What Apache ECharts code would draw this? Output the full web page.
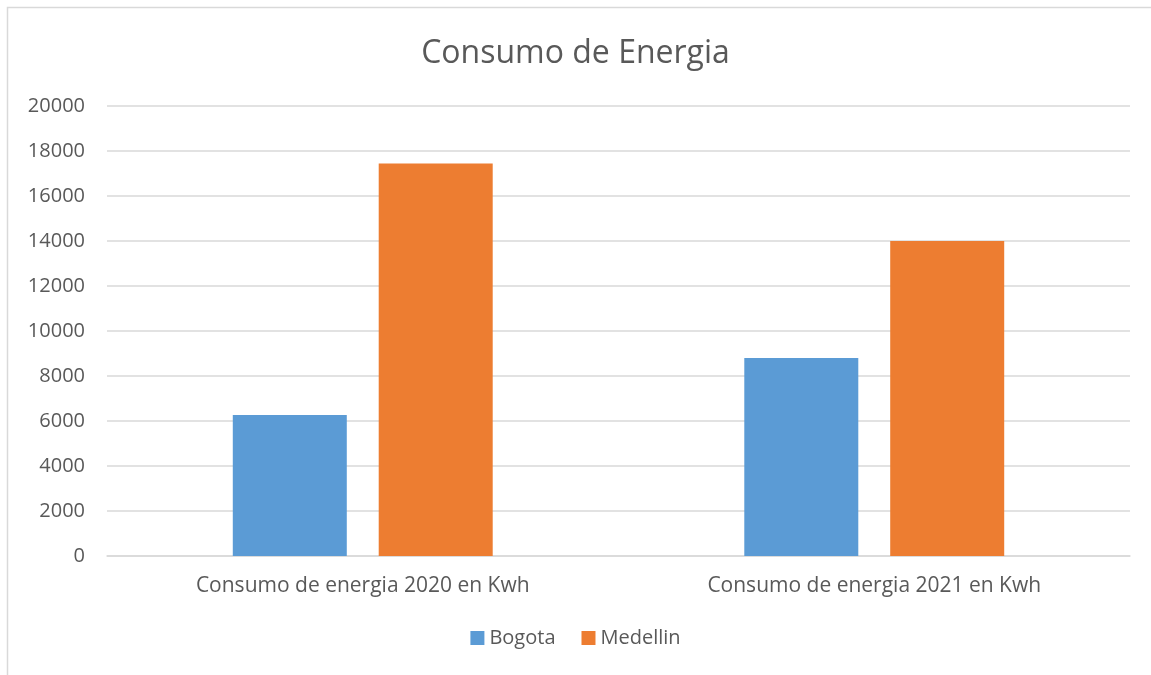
<!DOCTYPE html>
<html>
<head>
<meta charset="utf-8">
<script src="https://cdn.jsdelivr.net/npm/echarts@6/dist/echarts.min.js"></script>
<style>
  html, body { margin: 0; padding: 0; background: #fff; }
  #chartDiv { width: 1151px; height: 675px; }
</style>
</head>
<body>
<div id="chartDiv"></div>
<script>
// datos
let categorias = ['Consumo de energia 2020 en Kwh', 'Consumo de energia 2021 en Kwh'];
let bogota = [6270, 8800];
let medellin = [17440, 14000];
let ticks = [0, 20000, 2000]; // min, max, intervalo

let myChart = echarts.init(document.getElementById('chartDiv'));
window.onresize = myChart.resize;

let fuente = 'Open Sans';
let gris = '#595959';

let option = {
    backgroundColor: '#fff',
    animation: false,
    graphic: [{
        type: 'rect',
        shape: { x: 7.5, y: 7.5, width: 1200, height: 700 },
        style: { fill: 'none', stroke: '#d9d9d9', lineWidth: 1.5 }
    }],
    title: {
        text: 'Consumo de Energia',
        left: 'center',
        top: 33,
        textStyle: { color: gris, fontSize: 32, fontWeight: 'normal', fontFamily: fuente }
    },
    legend: {
        bottom: 22,
        left: 'center',
        itemWidth: 14,
        itemHeight: 14,
        itemGap: 26,
        itemTextGap: 5,
        icon: 'rect',
        textStyle: { color: gris, fontSize: 20, fontFamily: fuente }
    },
    grid: { left: 107, right: 21, top: 106, bottom: 119, containLabel: false },
    xAxis: {
        type: 'category',
        data: categorias,
        axisTick: { show: false },
        axisLine: { lineStyle: { color: '#d9d9d9', width: 1.5 } },
        axisLabel: { color: gris, fontSize: 21, fontFamily: fuente, margin: 20 }
    },
    yAxis: {
        type: 'value',
        min: ticks[0],
        max: ticks[1],
        interval: ticks[2],
        axisLine: { show: false },
        axisTick: { show: false },
        axisLabel: { color: gris, fontSize: 20, fontFamily: fuente, margin: 22, formatter: function (v) { return String(v); } },
        splitLine: { lineStyle: { color: '#d9d9d9', width: 1.5 } }
    },
    series: [
        {
            name: 'Bogota', type: 'bar', data: bogota,
            barWidth: 114, barGap: '28%',
            itemStyle: { color: '#5b9bd5' }
        },
        {
            name: 'Medellin', type: 'bar', data: medellin,
            barWidth: 114,
            itemStyle: { color: '#ed7d31' }
        }
    ]
};
myChart.setOption(option);
</script>
</body>
</html>
